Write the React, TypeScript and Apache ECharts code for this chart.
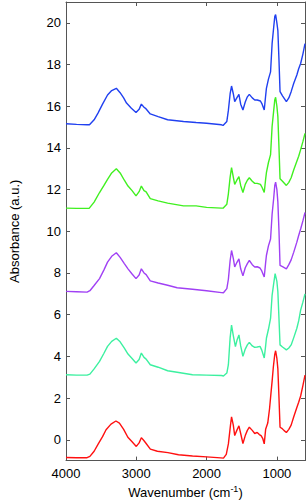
import React, { useEffect, useRef } from "react";
import * as echarts from "echarts";

const xTicks = [4000, 3000, 2000, 1000];
const yTicks = [0, 2, 4, 6, 8, 10, 12, 14, 16, 18, 20];

const seriesNames = ["S1", "S2", "S3", "S4", "S5"];
const seriesColors = ["#ff1010", "#3cf0a0", "#a040f4", "#40f020", "#2040f0"];

const red: [number, number][] = [
  [4000, -0.85], [3850, -0.86], [3700, -0.86], [3660, -0.8], [3600, -0.55], [3545, -0.22], [3480, 0.15], [3430, 0.48],
  [3360, 0.75], [3290, 0.9], [3240, 0.8], [3180, 0.5], [3120, 0.12], [3060, -0.1], [3000, -0.32], [2960, -0.15],
  [2928, 0.1], [2890, -0.05], [2860, -0.18], [2800, -0.45], [2700, -0.55], [2550, -0.62], [2400, -0.72], [2200, -0.78],
  [2000, -0.82], [1800, -0.87], [1760, -0.88], [1720, -0.7], [1690, -0.2], [1660, 0.7], [1645, 1.1], [1620, 0.7],
  [1600, 0.2], [1570, 0.45], [1540, 0.67], [1515, 0.3], [1483, -0.18], [1450, 0.2], [1420, 0.45], [1392, 0.6],
  [1350, 0.45], [1315, 0.3], [1280, 0.35], [1250, 0.25], [1225, 0.2], [1200, 0.05], [1180, -0.2], [1160, 0.5],
  [1130, 0.8], [1104, 1.5], [1085, 2.2], [1068, 2.8], [1050, 3.5], [1030, 4.1], [1018, 4.27], [1000, 3.9],
  [986, 3.4], [970, 2.0], [955, 0.6], [930, 0.55], [900, 0.45], [865, 0.35], [830, 0.5], [797, 0.7], [760, 1.1],
  [716, 1.55], [690, 1.8], [662, 2.1], [630, 2.6], [600, 3.1],
];

const turquoise: [number, number][] = [
  [4000, 3.12], [3850, 3.1], [3700, 3.1], [3660, 3.15], [3600, 3.4], [3523, 3.76], [3460, 4.15], [3409, 4.48],
  [3350, 4.72], [3284, 4.87], [3230, 4.7], [3170, 4.4], [3118, 4.11], [3060, 3.9], [3004, 3.68], [2960, 3.85],
  [2928, 4.16], [2890, 3.95], [2860, 3.87], [2801, 3.6], [2689, 3.48], [2554, 3.31], [2419, 3.24], [2200, 3.12],
  [2000, 3.1], [1788, 3.08], [1760, 3.06], [1712, 3.2], [1690, 3.6], [1665, 4.9], [1645, 5.5], [1620, 5.0],
  [1590, 4.47], [1565, 4.8], [1540, 5.03], [1515, 4.5], [1483, 4.0], [1450, 4.35], [1420, 4.55], [1392, 4.67],
  [1350, 4.5], [1315, 4.43], [1280, 4.45], [1240, 4.48], [1215, 4.3], [1180, 3.92], [1160, 4.5], [1149, 4.87],
  [1120, 5.3], [1090, 5.82], [1068, 6.93], [1045, 7.5], [1025, 7.97], [1000, 7.6], [986, 7.1], [970, 5.8],
  [955, 4.55], [920, 4.45], [865, 4.31], [830, 4.4], [797, 4.55], [760, 4.9], [716, 5.35], [690, 5.7],
  [662, 6.22], [630, 6.6], [600, 7.0],
];

const purple: [number, number][] = [
  [4000, 7.12], [3850, 7.1], [3700, 7.08], [3660, 7.15], [3600, 7.4], [3523, 7.73], [3460, 8.15], [3409, 8.52],
  [3350, 8.8], [3284, 8.97], [3230, 8.75], [3170, 8.45], [3118, 8.2], [3060, 7.95], [3004, 7.73], [2960, 7.9],
  [2928, 8.2], [2890, 8.0], [2860, 7.92], [2801, 7.62], [2689, 7.52], [2554, 7.41], [2419, 7.29], [2200, 7.22],
  [2000, 7.15], [1788, 7.06], [1760, 7.05], [1712, 7.25], [1690, 7.7], [1665, 8.6], [1645, 9.08], [1620, 8.7],
  [1600, 8.29], [1570, 8.5], [1540, 8.68], [1515, 8.2], [1483, 7.86], [1450, 8.25], [1420, 8.45], [1392, 8.6],
  [1350, 8.4], [1315, 8.29], [1280, 8.3], [1240, 8.24], [1215, 8.1], [1180, 7.81], [1160, 8.5], [1149, 8.84],
  [1120, 9.3], [1090, 9.63], [1068, 10.82], [1045, 11.6], [1030, 12.2], [1018, 12.36], [1000, 12.0], [986, 11.4],
  [970, 10.0], [955, 8.36], [920, 8.3], [865, 8.2], [830, 8.4], [797, 8.63], [760, 9.0], [716, 9.48],
  [690, 9.8], [662, 10.11], [630, 10.5], [600, 10.9],
];

const green: [number, number][] = [
  [4000, 11.11], [3850, 11.1], [3700, 11.1], [3671, 11.1], [3600, 11.4], [3523, 11.86], [3460, 12.2], [3409, 12.49],
  [3350, 12.8], [3284, 13.0], [3230, 12.8], [3170, 12.45], [3118, 12.17], [3060, 11.95], [3004, 11.7], [2960, 11.9],
  [2928, 12.17], [2890, 11.95], [2860, 11.89], [2801, 11.57], [2689, 11.46], [2554, 11.35], [2328, 11.22], [2149, 11.22],
  [2000, 11.15], [1788, 11.11], [1766, 11.11], [1712, 11.3], [1690, 11.8], [1665, 12.6], [1645, 13.05], [1620, 12.6],
  [1600, 12.25], [1570, 12.45], [1540, 12.62], [1515, 12.2], [1483, 11.86], [1450, 12.25], [1420, 12.45], [1392, 12.57],
  [1350, 12.4], [1315, 12.3], [1280, 12.3], [1234, 12.25], [1210, 12.1], [1180, 11.86], [1160, 12.5], [1149, 12.81],
  [1120, 13.3], [1090, 13.68], [1068, 15.03], [1045, 15.8], [1030, 16.3], [1018, 16.43], [1000, 16.0], [986, 15.5],
  [970, 14.0], [955, 12.52], [920, 12.4], [865, 12.2], [830, 12.35], [797, 12.57], [760, 12.95], [716, 13.36],
  [690, 13.6], [662, 13.92], [630, 14.3], [600, 14.7],
];

const blue: [number, number][] = [
  [4000, 15.16], [3850, 15.13], [3700, 15.11], [3666, 15.11], [3600, 15.35], [3545, 15.67], [3480, 16.1], [3409, 16.54],
  [3350, 16.75], [3284, 16.86], [3230, 16.65], [3180, 16.4], [3139, 16.15], [3070, 15.9], [3004, 15.7], [2960, 15.85],
  [2928, 16.1], [2890, 15.95], [2869, 15.9], [2801, 15.63], [2689, 15.5], [2554, 15.35], [2328, 15.27], [2149, 15.22],
  [2000, 15.18], [1788, 15.11], [1766, 15.08], [1712, 15.27], [1690, 15.8], [1665, 16.6], [1645, 16.97], [1620, 16.6],
  [1600, 16.22], [1570, 16.4], [1540, 16.57], [1515, 16.1], [1483, 15.82], [1450, 16.2], [1420, 16.45], [1392, 16.57],
  [1350, 16.4], [1315, 16.3], [1280, 16.3], [1234, 16.25], [1210, 16.1], [1180, 15.82], [1160, 16.5], [1149, 16.86],
  [1120, 17.3], [1090, 17.65], [1068, 19.0], [1045, 19.8], [1030, 20.3], [1018, 20.4], [1000, 20.0], [986, 19.63],
  [970, 18.2], [955, 16.7], [920, 16.5], [865, 16.22], [830, 16.4], [797, 16.7], [760, 17.1], [716, 17.5],
  [690, 17.8], [662, 18.05], [630, 18.5], [600, 19.0],
];

const allData = [red, turquoise, purple, green, blue];

const FONT = "Liberation Sans, Arial, sans-serif";
const AXIS_COLOR = "#555555";

export default function App() {
  const ref = useRef<HTMLDivElement>(null);
  useEffect(() => {
    if (!ref.current) return;
    const chart = echarts.init(ref.current, null, { renderer: "svg" });
    const baseX = {
      type: "value" as const,
      inverse: true,
      min: 600,
      max: 4000,
      splitLine: { show: false },
      axisLine: { show: true, onZero: false, lineStyle: { color: AXIS_COLOR, width: 1 } },
    };
    const baseY = {
      type: "value" as const,
      min: -1,
      max: 21,
      splitLine: { show: false },
      axisLine: { show: true, onZero: false, lineStyle: { color: AXIS_COLOR, width: 1 } },
    };
    chart.setOption({
      animation: false,
      backgroundColor: "#ffffff",
      textStyle: { fontFamily: FONT },
      grid: { left: 53, right: 2, top: 2, bottom: 42, containLabel: false },
      xAxis: [
        {
          ...baseX,
          position: "bottom",
          axisTick: { show: true, inside: true, length: 4, customValues: xTicks, lineStyle: { color: AXIS_COLOR } },
          axisLabel: {
            show: true,
            customValues: xTicks,
            formatter: (v: number) => String(v),
            fontSize: 13,
            color: "#000",
            margin: 6,
            fontFamily: FONT,
          },
          name: "{a|Wavenumber (cm}{s|-1}{a|)}",
          nameLocation: "middle",
          nameGap: 22,
          nameTextStyle: {
            rich: {
              a: { fontSize: 13, fontFamily: FONT, color: "#000", lineHeight: 16 },
              s: { fontSize: 9, fontFamily: FONT, color: "#000", lineHeight: 9, verticalAlign: "top" },
            },
          },
        },
        {
          ...baseX,
          position: "top",
          axisTick: { show: true, inside: true, length: 4, customValues: xTicks, lineStyle: { color: AXIS_COLOR } },
          axisLabel: { show: false },
        },
      ],
      yAxis: [
        {
          ...baseY,
          position: "left",
          axisTick: { show: true, inside: true, length: 4, customValues: yTicks, lineStyle: { color: AXIS_COLOR } },
          axisLabel: {
            show: true,
            customValues: yTicks,
            formatter: (v: number) => String(v),
            fontSize: 13,
            color: "#000",
            margin: 5,
            fontFamily: FONT,
          },
          name: "Absorbance (a.u.)",
          nameLocation: "middle",
          nameGap: 45,
          nameTextStyle: { fontSize: 13, color: "#000", fontFamily: FONT },
        },
        {
          ...baseY,
          position: "right",
          axisTick: { show: true, inside: true, length: 4, customValues: yTicks, lineStyle: { color: AXIS_COLOR } },
          axisLabel: { show: false },
        },
      ],
      series: allData.map((d, i) => ({
        name: seriesNames[i],
        type: "line",
        xAxisIndex: 0,
        yAxisIndex: 0,
        data: d,
        showSymbol: false,
        symbol: "none",
        lineStyle: { color: seriesColors[i], width: 1.4 },
        itemStyle: { color: seriesColors[i] },
      })),
    });
    return () => chart.dispose();
  }, []);
  return <div ref={ref} style={{ position: "fixed", left: 0, top: 0, width: 307, height: 504 }} />;
}
